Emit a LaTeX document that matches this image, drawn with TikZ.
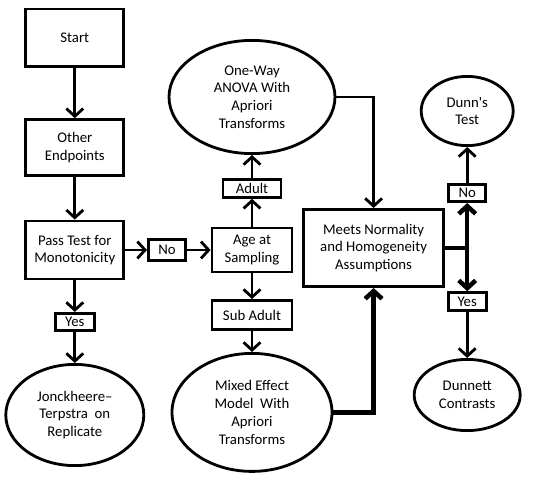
\documentclass[tikz,border=0pt]{standalone}
\usepackage{fontspec}
\setmainfont{Carlito}
\usepackage{tikz}
\usetikzlibrary{shapes.geometric,arrows.meta}

\begin{document}
\begin{tikzpicture}[
  font=\fontsize{10.5}{12.6}\selectfont,
  box/.style={draw, line width=2pt, align=center, inner sep=1pt},
  oval/.style={draw, ellipse, line width=2pt, align=center, inner sep=0pt},
  tag/.style={draw, line width=2pt, inner sep=1pt},
  flow/.style={-{Straight Barb[length=5.5pt,width=12pt]}, line width=2pt},
  bold flow/.style={flow, line width=3.2pt}
]
  \useasboundingbox (0,0) rectangle (13.5,-12.525);

  % Left column
  \node[box, minimum width=2.45cm, minimum height=1.43cm] (start) at (1.87,-0.94) {Start};
  \node[box, minimum width=2.45cm, minimum height=1.4cm] (other) at (1.87,-3.69) {Other\\Endpoints};
  \node[box, minimum width=2.45cm, minimum height=1.45cm] (pass) at (1.87,-6.25) {Pass Test for\\Monotonicity};
  \node[tag, minimum width=0.98cm, minimum height=0.43cm] (yesA) at (1.87,-8.05) {Yes};
  \node[oval, minimum width=3.45cm, minimum height=2.53cm] (jonck) at (1.87,-10.375) {Jonckheere--\\Terpstra~~on\\Replicate};

  % Middle column
  \node[tag, minimum width=0.93cm, minimum height=0.53cm] (noA) at (4.175,-6.25) {No};
  \node[box, minimum width=2cm, minimum height=1.1cm] (age) at (6.3,-6.25) {Age at\\Sampling};
  \node[tag, minimum width=1.45cm, minimum height=0.45cm] (adult) at (6.3,-4.71) {Adult};
  \node[tag, minimum width=2cm, minimum height=0.73cm] (subadult) at (6.3,-7.875) {Sub Adult};
  \node[oval, minimum width=4.15cm, minimum height=2.83cm] (oneway) at (6.3,-2.425) {One-Way\\ANOVA With\\Apriori\\Transforms};
  \node[oval, minimum width=4cm, minimum height=2.95cm] (mixed) at (6.3,-10.31) {Mixed Effect\\Model~~With\\Apriori\\Transforms};

  % Right part
  \node[box, minimum width=3.5cm, minimum height=1.93cm] (meets) at (9.34,-6.2) {Meets Normality\\and Homogeneity\\Assumptions};
  \node[tag, minimum width=0.93cm, minimum height=0.43cm] (noB) at (11.68,-4.825) {No};
  \node[oval, minimum width=2.3cm, minimum height=1.73cm] (dunn) at (11.68,-2.775) {Dunn\textquotesingle s\\Test};
  \node[tag, minimum width=0.95cm, minimum height=0.45cm] (yesB) at (11.68,-7.54) {Yes};
  \node[oval, minimum width=2.65cm, minimum height=1.78cm] (dunnett) at (11.68,-9.875) {Dunnett\\Contrasts};
  \coordinate (fork) at (meets.east -| noB.south);

  % Arrows
  \draw[flow] (start) -- (other);
  \draw[flow] (other) -- (pass);
  \draw[flow] (pass) -- (yesA);
  \draw[flow] (yesA) -- (jonck);
  \draw[flow] (pass) -- (noA);
  \draw[flow] (noA) -- (age);
  \draw[flow] (age) -- (adult);
  \draw[flow] (adult) -- (oneway);
  \draw[flow] (age) -- (subadult);
  \draw[flow] (subadult) -- (mixed);
  \draw[flow] (oneway.east) -| (meets.north);
  \draw[bold flow] (mixed.east) -| (meets.south);
  \draw[bold flow] (meets.east) -- (fork) -- (noB.south);
  \draw[bold flow] (fork) -- (yesB.north);
  \draw[flow] (noB) -- (dunn);
  \draw[flow] (yesB) -- (dunnett);
\end{tikzpicture}
\end{document}
